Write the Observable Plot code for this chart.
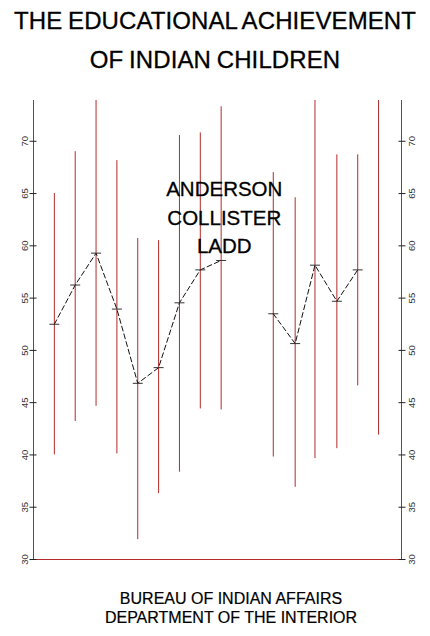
<!DOCTYPE html>
<html><head><meta charset="utf-8">
<script src="https://cdn.jsdelivr.net/npm/d3@7"></script>
<script src="https://cdn.jsdelivr.net/npm/@observablehq/plot@0.6"></script>
<style>
body{margin:0;background:#fff;font-family:"Liberation Sans",Arial,sans-serif;width:430px;color:#000;}
#title{height:90px;text-align:center;font-size:24px;line-height:39px;padding-top:0.5px;box-sizing:border-box;-webkit-text-stroke:0.3px #000;word-spacing:-1px;letter-spacing:0.1px;}
#chart{height:485px;}
#caption{text-align:center;font-size:16px;line-height:18.5px;padding-left:32px;margin-top:15px;-webkit-text-stroke:0.2px #000;}
</style></head><body>
<div id="title">THE EDUCATIONAL ACHIEVEMENT<br>OF INDIAN CHILDREN</div>
<div id="chart"></div>
<div id="caption">BUREAU OF INDIAN AFFAIRS<br>DEPARTMENT OF THE INTERIOR</div>
<script>
// data
const positions = [1, 2, 3, 4, 5, 6, 7, 8, 9, 11.5, 12.55, 13.5, 14.55, 15.55, 16.55];
const groups    = ["A","A","A","A","A","A","A","A","A","B","B","B","B","B","B"];
const highs = [65.0, 69.0, 73.9, 68.15, 60.7, 60.5, 70.55, 70.8, 73.3, 67.0, 64.6, 73.9, 68.7, 68.7, 73.9];
const lows  = [40.0, 43.2, 44.65, 40.1, 31.9, 36.3, 38.35, 44.4, 44.3, 39.8, 36.9, 39.65, 40.6, 46.6, 41.9];
const means = [52.5, 56.25, 59.3, 53.95, 46.85, 48.35, 54.55, 57.7, 58.6, 53.5, 50.65, 58.15, 54.7, 57.7, null];
const yTicks = [30, 35, 40, 45, 50, 55, 60, 65, 70];
const xDomain = [0, 17.65];
const yDomain = [30, 73.9];
const authors = ["ANDERSON", "COLLISTER", "LADD"];
const authorAt = [{x: 9.15, y: 62.9}];

const rows = positions.map((x, i) => ({x, group: groups[i], high: highs[i], low: lows[i], mean: means[i]}));
const withMean = rows.filter(d => d.mean != null);
const red = "#b32a2a";
const hbar = {draw(ctx, size) { const r = Math.sqrt(size / Math.PI); ctx.moveTo(-r, 0); ctx.lineTo(r, 0); }};

const chart = Plot.plot({
  width: 430,
  height: 485,
  marginTop: 10,
  marginBottom: 16,
  marginLeft: 33,
  marginRight: 29,
  style: {fontFamily: "Liberation Sans, Arial, sans-serif", background: "white", color: "#000"},
  x: {domain: xDomain, axis: null},
  y: {domain: yDomain},
  marks: [
    Plot.ruleX(rows, {x: "x", y1: "low", y2: "high", stroke: red, strokeWidth: 1}),
    Plot.ruleX(xDomain, {stroke: red, strokeWidth: 1}),
    Plot.ruleY(yDomain.slice(0, 1), {stroke: red, strokeWidth: 1}),
    Plot.axisY(yTicks, {anchor: "left", tickRotate: -90, tickSize: 7, dx: 3.5, tickPadding: 2, fontSize: 9.5, stroke: "#222", fill: "#333", label: null}),
    Plot.axisY(yTicks, {anchor: "right", tickRotate: -90, tickSize: 7, dx: -3.5, tickPadding: 3, lineAnchor: "top", fontSize: 9.5, stroke: "#222", fill: "#333", label: null}),
    Plot.line(withMean, {x: "x", y: "mean", z: "group", stroke: "#111", strokeWidth: 1, strokeDasharray: "5,3"}),
    Plot.dot(withMean, {x: "x", y: "mean", symbol: hbar, r: 5, stroke: "#333", fill: "none", strokeWidth: 1}),
    Plot.text(authorAt, {x: "x", y: "y", text: () => authors.join("\n"), fontSize: 20.5, lineHeight: 1.4, fill: "#000", stroke: "#000", strokeWidth: 0.3})
  ]
});
document.getElementById("chart").appendChild(chart);
</script>
</body></html>
